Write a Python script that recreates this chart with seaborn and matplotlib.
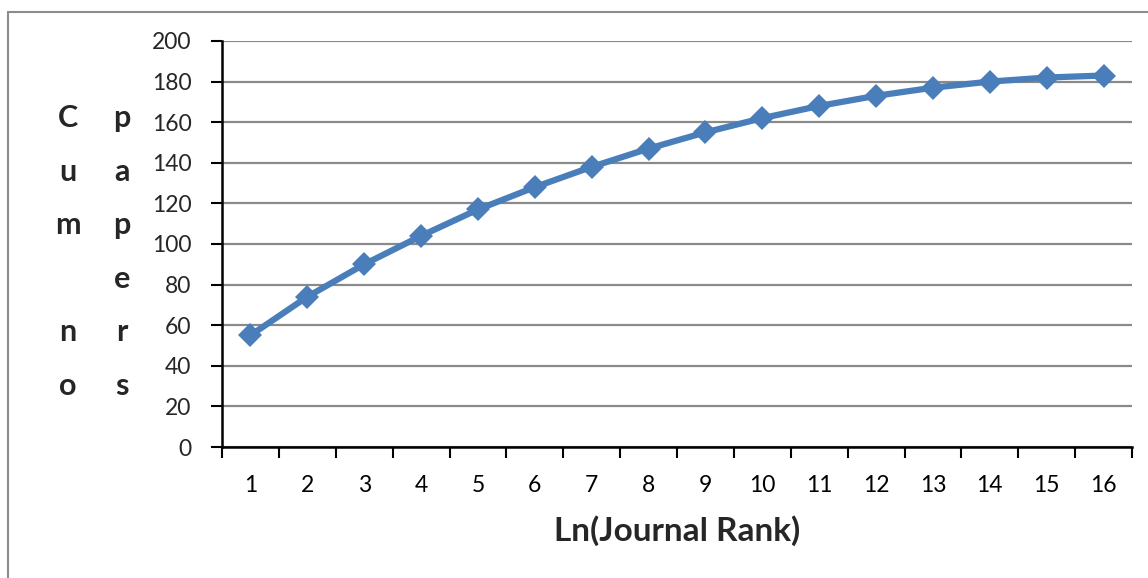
import matplotlib
matplotlib.use("Agg")
import matplotlib.pyplot as plt
from matplotlib.lines import Line2D
import seaborn as sns
import pandas as pd

# Journal rank categories and cumulative number of papers
ranks = list(range(1, 17))
cum_papers = [55, 74, 90, 104, 117, 128, 138, 147, 155, 162, 168, 173, 177, 180, 182, 183]
y_ticks = [0, 20, 40, 60, 80, 100, 120, 140, 160, 180, 200]
x_title = "Ln(Journal Rank)"
y_title_cols = ["Cum no", "papers"]

sns.set_theme(style="white")
plt.rcParams["font.family"] = ["Lato", "DejaVu Sans"]

W, H = 1148, 578
fig = plt.figure(figsize=(W / 100, H / 100), dpi=100)
ax = fig.add_axes([222 / W, 1 - 447 / H, (1132 - 222) / W, (447 - 41) / H])

df = pd.DataFrame({"rank": ranks, "papers": cum_papers})
sns.lineplot(data=df, x="rank", y="papers", ax=ax, color="#4A7EBB",
             linewidth=4.5, marker="D", markersize=12, markeredgewidth=0, zorder=3)

ax.set_xlim(0.5, 16.5)
ax.set_ylim(0, 200)
ax.set_yticks(y_ticks)
ax.set_yticklabels([str(v) for v in y_ticks], fontsize=16.5)
ax.set_xticks(ranks)
ax.set_xticklabels([str(r) for r in ranks], fontsize=16.5)
ax.set_xticks([r - 0.5 for r in ranks] + [16.5], minor=True)
ax.tick_params(axis="x", which="major", length=0, pad=20, colors="black")
ax.tick_params(axis="x", which="minor", length=8, width=1.5, color="black", direction="out", bottom=True)
ax.tick_params(axis="y", which="major", length=8, width=1.5, color="black", direction="out", left=True, pad=14)

ax.grid(axis="y", color="#8A8A8A", linewidth=1.6, zorder=0)
ax.grid(axis="x", visible=False)
for side in ["top", "right"]:
    ax.spines[side].set_visible(False)
for side in ["left", "bottom"]:
    ax.spines[side].set_color("black")
    ax.spines[side].set_linewidth(1.8)
ax.spines["bottom"].set_zorder(4)

ax.set_xlabel(x_title, fontsize=24, fontweight="bold", labelpad=14)
ax.set_ylabel("")

# Vertical y-axis title, written as two columns of stacked letters
col_x = [68, 122]
row_y0, row_step = 118, 53.6
for cx, word in zip(col_x, y_title_cols):
    for i, ch in enumerate(word):
        if ch.strip():
            fig.text(cx / W, 1 - (row_y0 + i * row_step) / H, ch, fontsize=22,
                     fontweight="bold", ha="center", va="center")

# Chart frame
fig.add_artist(Line2D([8 / W, 8 / W], [0, 1 - 12 / H], transform=fig.transFigure,
                      color="#8C8C8C", linewidth=1.5))
fig.add_artist(Line2D([8 / W, 1], [1 - 12 / H, 1 - 12 / H], transform=fig.transFigure,
                      color="#8C8C8C", linewidth=1.5))

fig.savefig("out.png", dpi=100)
